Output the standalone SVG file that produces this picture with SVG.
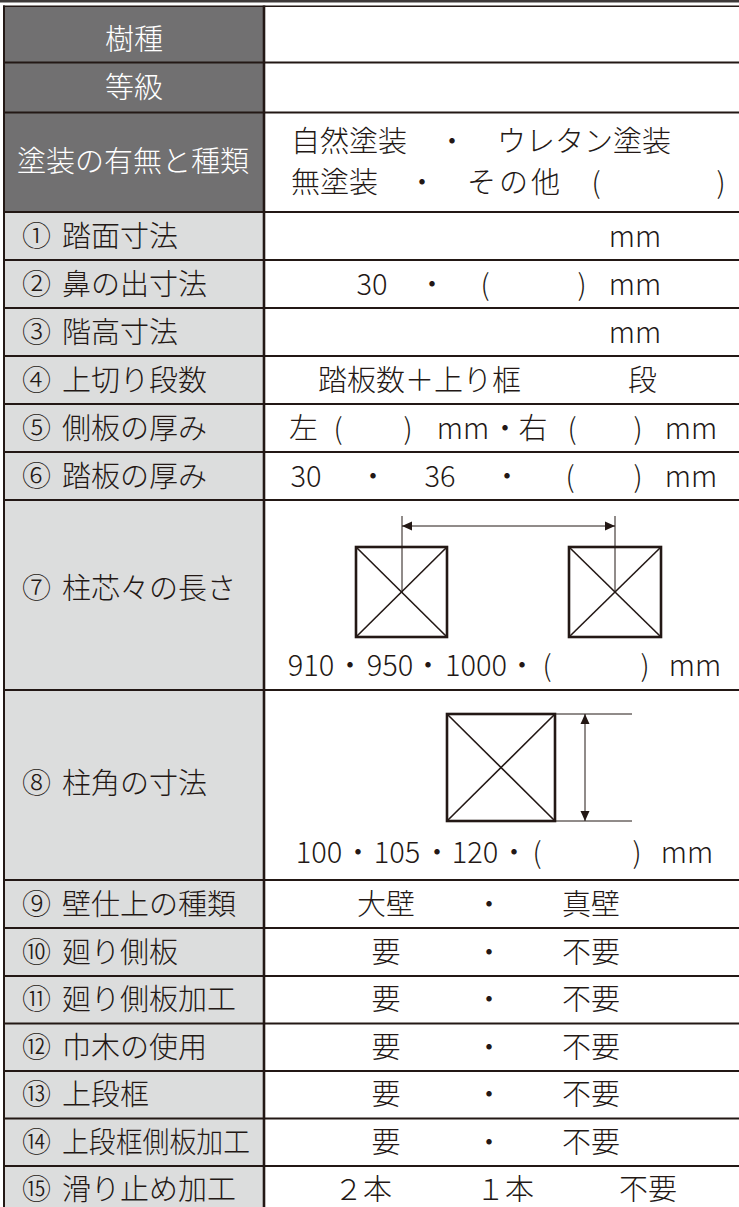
<svg xmlns="http://www.w3.org/2000/svg" width="739" height="1207" viewBox="0 0 739 1207">
<style>
text{font-family:"Noto Sans CJK JP","Noto Sans",sans-serif;font-size:29px;font-weight:300;fill:#231815}
.h{fill:#ffffff;text-anchor:middle}
.m{text-anchor:middle}
.rl{stroke:#231815;stroke-width:2.2;fill:none}
.bx{stroke:#231815;stroke-width:2.6;fill:none}
.dg{stroke:#231815;stroke-width:1.6;fill:none}
.th{stroke:#231815;stroke-width:1;fill:none}
</style>
<defs>
<marker id="ah" viewBox="0 0 10 10" refX="10" refY="5" markerWidth="10" markerHeight="10" markerUnits="userSpaceOnUse" orient="auto-start-reverse">
<path d="M0,0.5 L10,5 L0,9.5 z" fill="#231815"/>
</marker>
</defs>
<rect width="739" height="1207" fill="#ffffff"/>
<g id="background">
<rect x="0" y="0" width="739" height="2.5" fill="#3e3a39"/>
<rect x="4" y="6" width="260" height="206" fill="#717071"/>
<rect x="4" y="212" width="260" height="1000" fill="#dcdddd"/>
</g>
<g id="grid">
<line class="rl" x1="3" y1="6.3" x2="739" y2="6.3" style="stroke-width:1.6"/>
<line class="rl" x1="3" y1="62.5" x2="739" y2="62.5"/>
<line class="rl" x1="3" y1="112.5" x2="739" y2="112.5"/>
<line class="rl" x1="3" y1="212" x2="739" y2="212"/>
<line class="rl" x1="3" y1="260" x2="739" y2="260"/>
<line class="rl" x1="3" y1="308" x2="739" y2="308"/>
<line class="rl" x1="3" y1="356" x2="739" y2="356"/>
<line class="rl" x1="3" y1="404" x2="739" y2="404"/>
<line class="rl" x1="3" y1="452" x2="739" y2="452"/>
<line class="rl" x1="3" y1="500" x2="739" y2="500"/>
<line class="rl" x1="3" y1="690" x2="739" y2="690"/>
<line class="rl" x1="3" y1="880" x2="739" y2="880"/>
<line class="rl" x1="3" y1="928" x2="739" y2="928"/>
<line class="rl" x1="3" y1="976" x2="739" y2="976"/>
<line class="rl" x1="3" y1="1023.5" x2="739" y2="1023.5"/>
<line class="rl" x1="3" y1="1071" x2="739" y2="1071"/>
<line class="rl" x1="3" y1="1118.5" x2="739" y2="1118.5"/>
<line class="rl" x1="3" y1="1166" x2="739" y2="1166"/>
<line class="rl" x1="4" y1="5.5" x2="4" y2="1207" style="stroke-width:2"/>
<line class="rl" x1="264" y1="5.5" x2="264" y2="1207" style="stroke-width:2.6"/>
</g>
<g id="row-jushu">
<text class="h" x="134" y="50">樹種</text>
</g>
<g id="row-tokyu">
<text class="h" x="134" y="98">等級</text>
</g>
<g id="row-toso">
<text class="h" x="133" y="172">塗装の有無と種類</text>
<text x="291" y="152">自然塗装</text>
<text class="m" x="452" y="152">・</text>
<text x="497" y="152">ウレタン塗装</text>
<text x="291" y="193">無塗装</text>
<text class="m" x="422" y="193">・</text>
<text x="467" y="193" letter-spacing="3">その他</text>
<text class="m" x="596" y="193">(</text>
<text class="m" x="721" y="193">)</text>
</g>
<g id="row-01">
<text x="22" y="247">①</text><text x="62" y="247">踏面寸法</text>
<text class="m" x="635" y="247">mm</text>
</g>
<g id="row-02">
<text x="22" y="295">②</text><text x="62" y="295">鼻の出寸法</text>
<text class="m" x="372" y="295">30</text>
<text class="m" x="432" y="295">・</text>
<text class="m" x="485" y="295">(</text>
<text class="m" x="582" y="295">)</text>
<text class="m" x="635" y="295">mm</text>
</g>
<g id="row-03">
<text x="22" y="343">③</text><text x="62" y="343">階高寸法</text>
<text class="m" x="635" y="343">mm</text>
</g>
<g id="row-04">
<text x="22" y="391">④</text><text x="62" y="391">上切り段数</text>
<text x="318" y="391">踏板数＋上り框</text>
<text x="628" y="391">段</text>
</g>
<g id="row-05">
<text x="22" y="439">⑤</text><text x="62" y="439">側板の厚み</text>
<text x="289" y="439">左</text>
<text class="m" x="338" y="439">(</text>
<text class="m" x="408" y="439">)</text>
<text class="m" x="463" y="439">mm</text>
<text class="m" x="505" y="439">・</text>
<text class="m" x="533" y="439">右</text>
<text class="m" x="572" y="439">(</text>
<text class="m" x="638" y="439">)</text>
<text class="m" x="691" y="439">mm</text>
</g>
<g id="row-06">
<text x="22" y="487">⑥</text><text x="62" y="487">踏板の厚み</text>
<text class="m" x="306" y="487">30</text>
<text class="m" x="373" y="487">・</text>
<text class="m" x="440" y="487">36</text>
<text class="m" x="507" y="487">・</text>
<text class="m" x="570" y="487">(</text>
<text class="m" x="638" y="487">)</text>
<text class="m" x="691" y="487">mm</text>
</g>
<g id="row-07">
<text x="22" y="599">⑦</text><text x="62" y="599">柱芯々の長さ</text>
<rect class="bx" x="356" y="547" width="91" height="90"/>
<line class="dg" x1="356" y1="547" x2="447" y2="637"/>
<line class="dg" x1="447" y1="547" x2="356" y2="637"/>
<rect class="bx" x="569" y="547" width="92" height="90"/>
<line class="dg" x1="569" y1="547" x2="661" y2="637"/>
<line class="dg" x1="661" y1="547" x2="569" y2="637"/>
<text class="m" x="311" y="676">910</text>
<text class="m" x="350" y="676">・</text>
<text class="m" x="390" y="676">950</text>
<text class="m" x="428" y="676">・</text>
<text class="m" x="476" y="676">1000</text>
<text class="m" x="522" y="676">・</text>
<text class="m" x="547" y="676">(</text>
<text class="m" x="645" y="676">)</text>
<text class="m" x="695" y="676">mm</text>
</g>
<g id="row-08">
<text x="22" y="794">⑧</text><text x="62" y="794">柱角の寸法</text>
<rect class="bx" x="447" y="714" width="108" height="107"/>
<line class="dg" x1="447" y1="714" x2="555" y2="821"/>
<line class="dg" x1="555" y1="714" x2="447" y2="821"/>
<text class="m" x="319" y="863">100</text>
<text class="m" x="358" y="863">・</text>
<text class="m" x="397" y="863">105</text>
<text class="m" x="437" y="863">・</text>
<text class="m" x="475" y="863">120</text>
<text class="m" x="514" y="863">・</text>
<text class="m" x="537" y="863">(</text>
<text class="m" x="637" y="863">)</text>
<text class="m" x="687" y="863">mm</text>
</g>
<g id="connectors">
<line class="th" x1="402" y1="516" x2="402" y2="593"/>
<line class="th" x1="615" y1="516" x2="615" y2="593"/>
<line class="th" x1="402" y1="526" x2="615" y2="526" marker-start="url(#ah)" marker-end="url(#ah)"/>
<line class="th" x1="555" y1="714" x2="632" y2="714"/>
<line class="th" x1="555" y1="821" x2="632" y2="821"/>
<line class="th" x1="585" y1="714" x2="585" y2="821" marker-start="url(#ah)" marker-end="url(#ah)"/>
</g>
<g id="row-09">
<text x="22" y="915">⑨</text><text x="62" y="915">壁仕上の種類</text>
<text class="m" x="386" y="915">大壁</text>
<text class="m" x="489" y="915">・</text>
<text class="m" x="591" y="915">真壁</text>
</g>
<g id="row-10">
<text x="22" y="963">⑩</text><text x="62" y="963">廻り側板</text>
<text class="m" x="386" y="963">要</text>
<text class="m" x="489" y="963">・</text>
<text class="m" x="591" y="963">不要</text>
</g>
<g id="row-11">
<text x="22" y="1010">⑪</text><text x="62" y="1010">廻り側板加工</text>
<text class="m" x="386" y="1010">要</text>
<text class="m" x="489" y="1010">・</text>
<text class="m" x="591" y="1010">不要</text>
</g>
<g id="row-12">
<text x="22" y="1058">⑫</text><text x="62" y="1058">巾木の使用</text>
<text class="m" x="386" y="1058">要</text>
<text class="m" x="489" y="1058">・</text>
<text class="m" x="591" y="1058">不要</text>
</g>
<g id="row-13">
<text x="22" y="1105">⑬</text><text x="62" y="1105">上段框</text>
<text class="m" x="386" y="1105">要</text>
<text class="m" x="489" y="1105">・</text>
<text class="m" x="591" y="1105">不要</text>
</g>
<g id="row-14">
<text x="22" y="1153">⑭</text><text x="62" y="1153" textLength="188" lengthAdjust="spacingAndGlyphs">上段框側板加工</text>
<text class="m" x="386" y="1153">要</text>
<text class="m" x="489" y="1153">・</text>
<text class="m" x="591" y="1153">不要</text>
</g>
<g id="row-15">
<text x="22" y="1200">⑮</text><text x="62" y="1200">滑り止め加工</text>
<text class="m" x="363" y="1200">２本</text>
<text class="m" x="505" y="1200">１本</text>
<text class="m" x="648" y="1200">不要</text>
</g>
</svg>
